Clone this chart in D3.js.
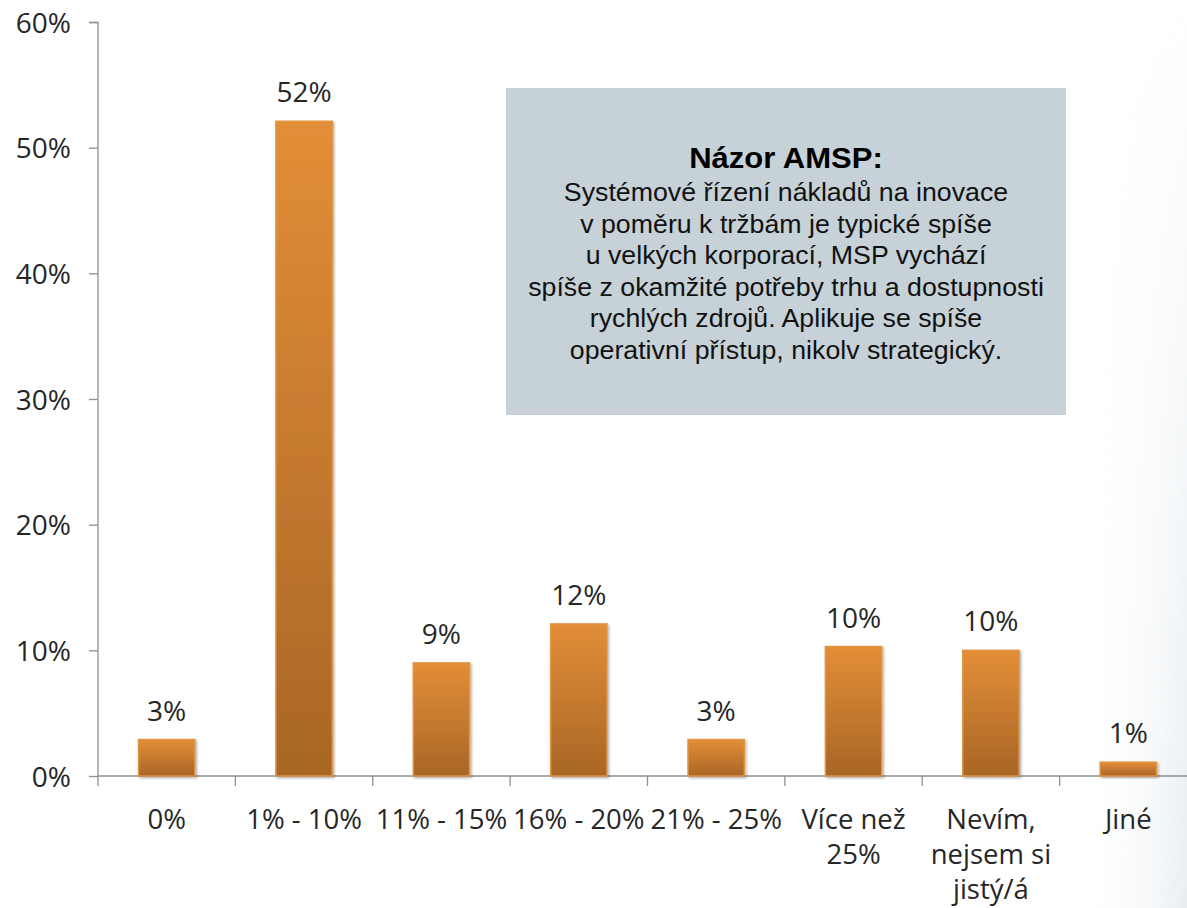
<!DOCTYPE html>
<html><head><meta charset="utf-8">
<script src="https://cdn.jsdelivr.net/npm/d3@7"></script>
<style>html,body{margin:0;padding:0;background:#fff;}svg{display:block;}</style>
</head><body>
<script>
const categories = ["0%", "1% - 10%", "11% - 15%", "16% - 20%", "21% - 25%", "Více než\n25%", "Nevím,\nnejsem si\njistý/á", "Jiné"];
const values = [2.9, 52.1, 9.0, 12.1, 2.9, 10.3, 10.0, 1.1];
const valueLabels = ["3%", "52%", "9%", "12%", "3%", "10%", "10%", "1%"];
const yTicks = [0, 10, 20, 30, 40, 50, 60];
const noteTitle = "Názor AMSP:";
const noteLines = [
  "Systémové řízení nákladů na inovace",
  "v poměru k tržbám je typické spíše",
  "u velkých korporací, MSP vychází",
  "spíše z okamžité potřeby trhu a dostupnosti",
  "rychlých zdrojů. Aplikuje se spíše",
  "operativní přístup, nikolv strategický."
];

const W = 1187, H = 908;
const svg = d3.select("body").append("svg").attr("width", W).attr("height", H);
const defs = svg.append("defs");
const bg = defs.append("linearGradient").attr("id","bgg").attr("x1","0").attr("x2","1").attr("y1","0").attr("y2","0");
bg.append("stop").attr("offset","0").attr("stop-color","#ffffff").attr("stop-opacity",0);
bg.append("stop").attr("offset","1").attr("stop-color","#e9eef2").attr("stop-opacity",1);
const bgv = defs.append("linearGradient").attr("id","bgm").attr("x1","0").attr("x2","0").attr("y1","0").attr("y2","1");
bgv.append("stop").attr("offset","0").attr("stop-color","#fff").attr("stop-opacity",0);
bgv.append("stop").attr("offset","1").attr("stop-color","#fff").attr("stop-opacity",1);
const mask = defs.append("mask").attr("id","bgmask");
mask.append("rect").attr("x",1080).attr("y",0).attr("width",107).attr("height",H).attr("fill","url(#bgm)");
svg.append("rect").attr("x",1080).attr("y",0).attr("width",107).attr("height",H).attr("fill","url(#bgg)").attr("mask","url(#bgmask)");

const grad = defs.append("linearGradient").attr("id","barg").attr("x1","0").attr("x2","0").attr("y1","0").attr("y2","1");
grad.append("stop").attr("offset","0").attr("stop-color","#e38e37");
grad.append("stop").attr("offset","1").attr("stop-color","#a86626");
const sh = defs.append("filter").attr("id","shadow").attr("x","-20%").attr("y","-20%").attr("width","140%").attr("height","140%");
sh.append("feDropShadow").attr("dx",1.5).attr("dy",1.5).attr("stdDeviation",1.2).attr("flood-color","#000").attr("flood-opacity",0.3);

const x = d3.scaleBand().domain(categories).range([98, 1197]).paddingInner(0.59).paddingOuter(0.295);
const y = d3.scaleLinear().domain([0, 60]).range([776, 22]);

const labelFont = "'Open Sans', sans-serif";

// y axis
const yAxis = d3.axisLeft(y).tickValues(yTicks).tickFormat(d => d + "%").tickSize(9).tickPadding(18);
const yg = svg.append("g").attr("transform","translate(98,0)").call(yAxis);
yg.select(".domain").attr("stroke","#8f8f8f").attr("stroke-width",1.3).attr("d","M-9,22.5H0V786");
yg.selectAll(".tick line").attr("stroke","#8f8f8f").attr("stroke-width",1.3);
yg.selectAll(".tick text").attr("fill","#262626").style("font-family",labelFont).style("font-size","28px").attr("dy","0.36em");

// x axis
const xg = svg.append("g").attr("transform","translate(0,776)");
xg.append("line").attr("x1",98).attr("x2",W).attr("y1",0).attr("y2",0).attr("stroke","#8f8f8f").attr("stroke-width",1.3);
const bounds = categories.slice(1).map(c => x(c) - x.step()*x.paddingInner()/2);
xg.selectAll("line.tk").data(bounds).join("line").attr("class","tk")
  .attr("x1",d=>d).attr("x2",d=>d).attr("y1",0).attr("y2",10).attr("stroke","#8f8f8f").attr("stroke-width",1.3);

const catLines = [];
categories.forEach(c => c.split("\n").forEach((line, i) => catLines.push({c, line, i})));
svg.append("g").selectAll("text").data(catLines).join("text")
  .attr("x", d => x(d.c) + x.bandwidth()/2)
  .attr("y", d => 829 + d.i*35)
  .attr("text-anchor","middle")
  .attr("fill","#262626")
  .style("font-family",labelFont).style("font-size","27.5px")
  .text(d => d.line);

// bars
svg.append("g").selectAll("rect").data(categories).join("rect")
  .attr("x", d => x(d))
  .attr("y", (d,i) => y(values[i]))
  .attr("width", x.bandwidth())
  .attr("height", (d,i) => y(0) - y(values[i]))
  .attr("fill","url(#barg)")
  .attr("stroke","#e09544").attr("stroke-width",1.5)
  .attr("filter","url(#shadow)");

// value labels
svg.append("g").selectAll("text").data(categories).join("text")
  .attr("x", d => x(d) + x.bandwidth()/2)
  .attr("y", (d,i) => y(values[i]) - 19)
  .attr("text-anchor","middle")
  .attr("fill","#262626")
  .style("font-family",labelFont).style("font-size","28px")
  .text((d,i) => valueLabels[i]);

// note box
svg.append("rect").attr("x",506).attr("y",88).attr("width",560).attr("height",327).attr("fill","#c6d1d8");
const cx = 786;
const ng = svg.append("g").attr("transform",`translate(${cx},0) scale(1.07,1)`);
ng.append("text").attr("x",0).attr("y",168).attr("text-anchor","middle")
  .style("font-family","'Liberation Sans', Arial, sans-serif").style("font-size","29px").style("font-weight","bold")
  .attr("fill","#000").text(noteTitle);
ng.append("g").selectAll("text").data(noteLines).join("text")
  .attr("x",0).attr("y",(d,i)=>201 + i*31.6).attr("text-anchor","middle")
  .style("font-family","'Liberation Sans', Arial, sans-serif").style("font-size","25px")
  .attr("fill","#111").text(d=>d);
</script>
</body></html>
